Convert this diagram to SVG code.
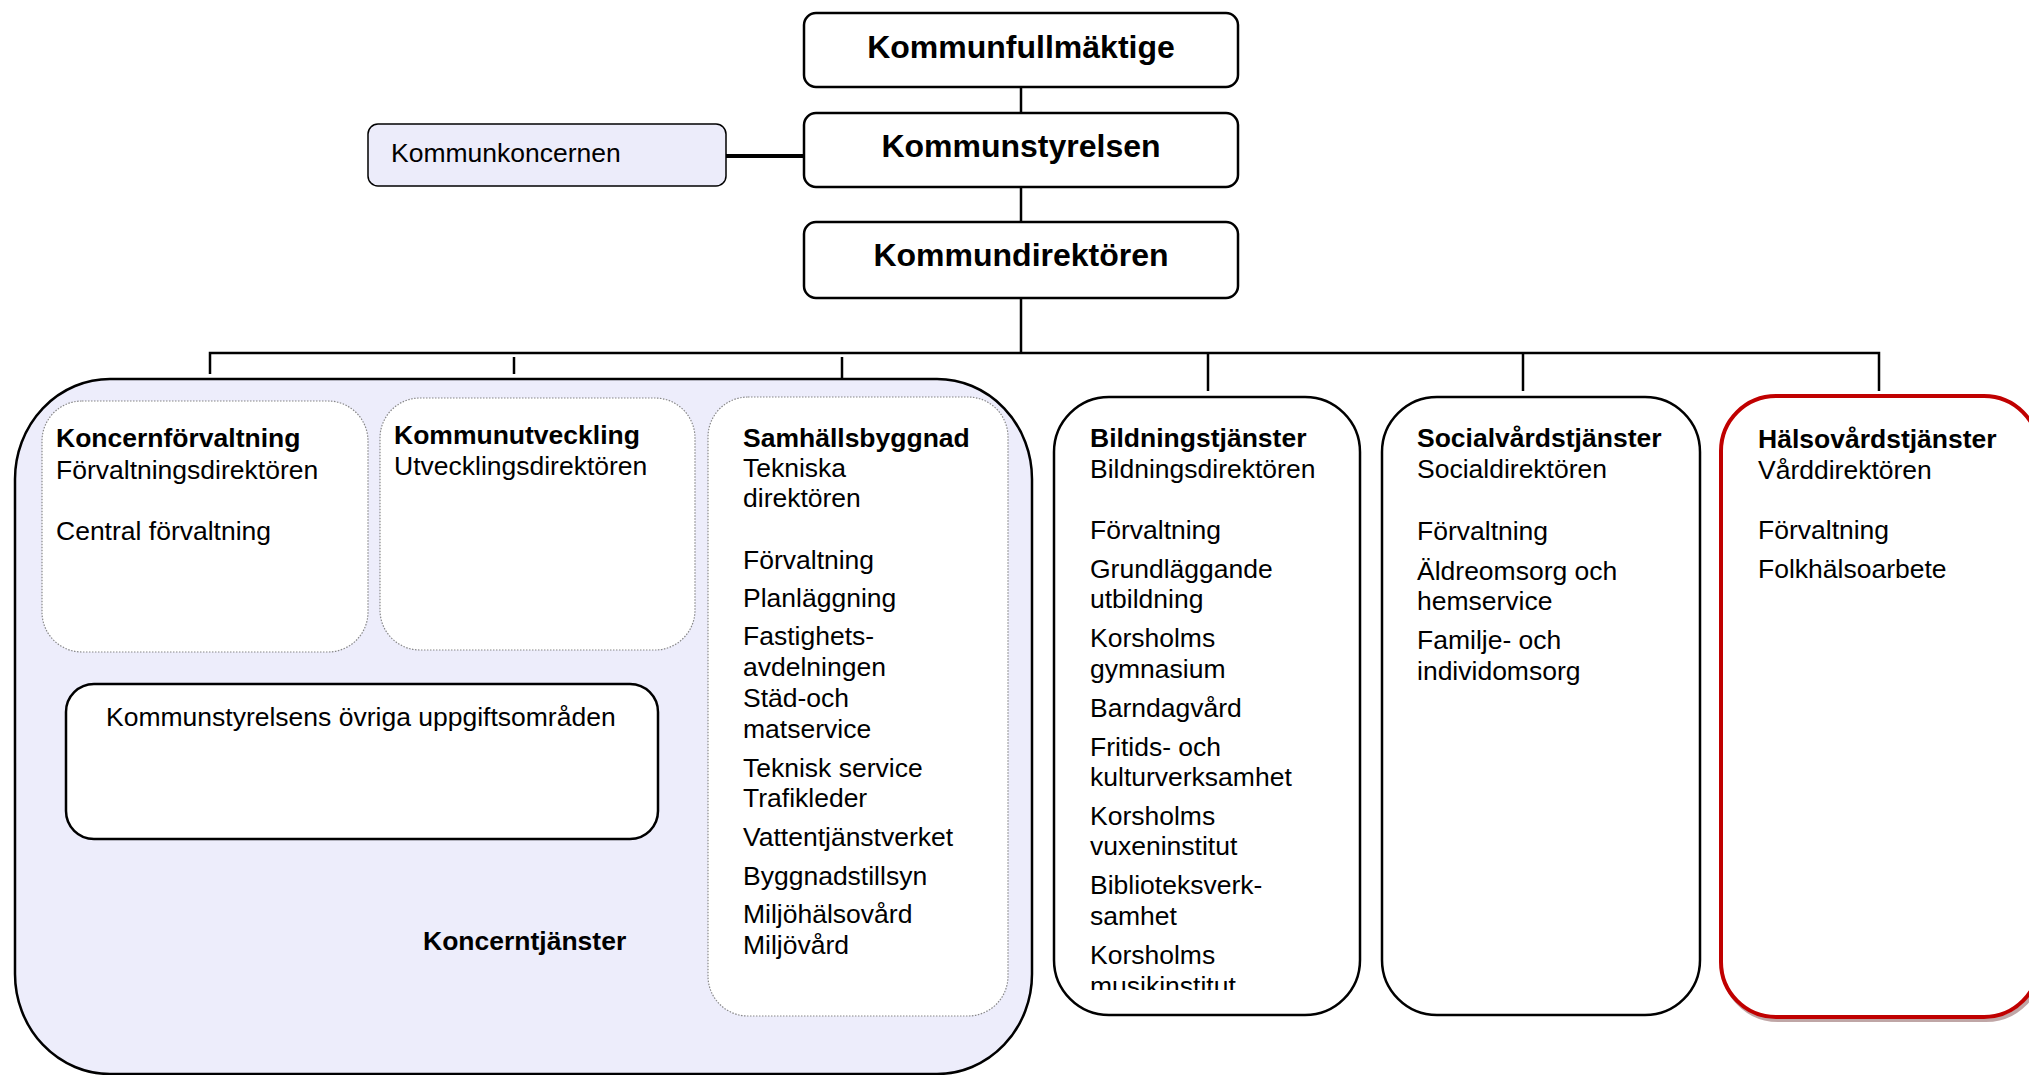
<svg xmlns="http://www.w3.org/2000/svg" width="2029" height="1075" viewBox="0 0 2029 1075">
<defs>
<style>
text{font-family:"Liberation Sans",Arial,sans-serif;font-size:26.5px;fill:#000}
.b{font-weight:bold}
.t{font-weight:bold;font-size:32px;text-anchor:middle}
.box{fill:#fff;stroke:#000;stroke-width:2.5}
.dot{fill:#fff;stroke:#888;stroke-width:1.2;stroke-dasharray:1.5 1.5}
.line{stroke:#000;stroke-width:2.5;fill:none}
</style>
<clipPath id="clipB"><rect x="1054" y="397" width="306" height="593"/></clipPath>
</defs>

<g id="connectors">
<line class="line" x1="1021" y1="87" x2="1021" y2="113"/>
<line class="line" x1="1021" y1="187" x2="1021" y2="222"/>
<line class="line" x1="1021" y1="298" x2="1021" y2="353"/>
<line x1="726" y1="156" x2="804" y2="156" stroke="#000" stroke-width="4"/>
<polyline class="line" points="210,374 210,353 1879,353 1879,391"/>
<line class="line" x1="514" y1="357" x2="514" y2="374"/>
<line class="line" x1="842" y1="357" x2="842" y2="380"/>
<line class="line" x1="1208" y1="353" x2="1208" y2="391"/>
<line class="line" x1="1523" y1="353" x2="1523" y2="391"/>
<line class="line" x1="211" y1="652" x2="211" y2="684"/>
<line class="line" x1="530" y1="650" x2="530" y2="684"/>
</g>

<g id="kommunfullmaktige">
<rect class="box" x="804" y="13" width="434" height="74" rx="12"/>
<text class="t" x="1021" y="58">Kommunfullmäktige</text>
</g>
<g id="kommunstyrelsen">
<rect class="box" x="804" y="113" width="434" height="74" rx="12"/>
<text class="t" x="1021" y="157">Kommunstyrelsen</text>
</g>
<g id="kommunkoncernen">
<rect x="368" y="124" width="358" height="62" rx="10" fill="#ececfa" stroke="#000" stroke-width="1.5"/>
<text x="391" y="162">Kommunkoncernen</text>
</g>
<g id="kommundirektoren">
<rect class="box" x="804" y="222" width="434" height="76" rx="12"/>
<text class="t" x="1021" y="266">Kommundirektören</text>
</g>

<g id="koncerntjanster">
<rect x="15" y="379" width="1017" height="695" rx="95" ry="100" fill="#ededfb" stroke="#000" stroke-width="2.5"/>
<text class="b" x="423" y="950">Koncerntjänster</text>
</g>

<g id="koncernforvaltning">
<rect class="dot" x="42" y="401" width="326" height="251" rx="40"/>
<text class="b" x="56" y="447">Koncernförvaltning</text>
<text x="56" y="479">Förvaltningsdirektören</text>
<text x="56" y="540">Central förvaltning</text>
</g>

<g id="kommunutveckling">
<rect class="dot" x="380" y="398" width="315" height="252" rx="40"/>
<text class="b" x="394" y="444">Kommunutveckling</text>
<text x="394" y="475">Utvecklingsdirektören</text>
</g>

<g id="samhallsbyggnad">
<rect class="dot" x="708" y="397" width="300" height="619" rx="40"/>
<text class="b" x="743" y="447">Samhällsbyggnad</text>
<text x="743" y="477">Tekniska</text>
<text x="743" y="507">direktören</text>
<text x="743" y="569">Förvaltning</text>
<text x="743" y="607">Planläggning</text>
<text x="743" y="645">Fastighets-</text>
<text x="743" y="676">avdelningen</text>
<text x="743" y="707">Städ-och</text>
<text x="743" y="738">matservice</text>
<text x="743" y="777">Teknisk service</text>
<text x="743" y="807">Trafikleder</text>
<text x="743" y="846">Vattentjänstverket</text>
<text x="743" y="885">Byggnadstillsyn</text>
<text x="743" y="923">Miljöhälsovård</text>
<text x="743" y="954">Miljövård</text>
</g>

<g id="kommunstyrelsens-ovriga">
<rect class="box" x="66" y="684" width="592" height="155" rx="28"/>
<text x="106" y="726">Kommunstyrelsens övriga uppgiftsområden</text>
</g>

<g id="bildningstjanster">
<rect class="box" x="1054" y="397" width="306" height="618" rx="55"/>
<text class="b" x="1090" y="447">Bildningstjänster</text>
<text x="1090" y="478">Bildningsdirektören</text>
<g clip-path="url(#clipB)">
<text x="1090" y="539">Förvaltning</text>
<text x="1090" y="578">Grundläggande</text>
<text x="1090" y="608">utbildning</text>
<text x="1090" y="647">Korsholms</text>
<text x="1090" y="678">gymnasium</text>
<text x="1090" y="717">Barndagvård</text>
<text x="1090" y="756">Fritids- och</text>
<text x="1090" y="786">kulturverksamhet</text>
<text x="1090" y="825">Korsholms</text>
<text x="1090" y="855">vuxeninstitut</text>
<text x="1090" y="894">Biblioteksverk-</text>
<text x="1090" y="925">samhet</text>
<text x="1090" y="964">Korsholms</text>
<text x="1090" y="995">musikinstitut</text>
</g>
</g>

<g id="socialvardstjanster">
<rect class="box" x="1382" y="397" width="318" height="618" rx="55"/>
<text class="b" x="1417" y="447">Socialvårdstjänster</text>
<text x="1417" y="478">Socialdirektören</text>
<text x="1417" y="540">Förvaltning</text>
<text x="1417" y="580">Äldreomsorg och</text>
<text x="1417" y="610">hemservice</text>
<text x="1417" y="649">Familje- och</text>
<text x="1417" y="680">individomsorg</text>
</g>

<g id="halsovardstjanster">
<rect x="1723" y="399" width="318" height="621" rx="55" fill="#fff" stroke="#b09090" stroke-width="4" opacity="0.8"/>
<rect x="1721" y="396" width="318" height="621" rx="55" fill="#fff" stroke="#c00000" stroke-width="4"/>
<text class="b" x="1758" y="448">Hälsovårdstjänster</text>
<text x="1758" y="479">Vårddirektören</text>
<text x="1758" y="539">Förvaltning</text>
<text x="1758" y="578">Folkhälsoarbete</text>
</g>
</svg>
